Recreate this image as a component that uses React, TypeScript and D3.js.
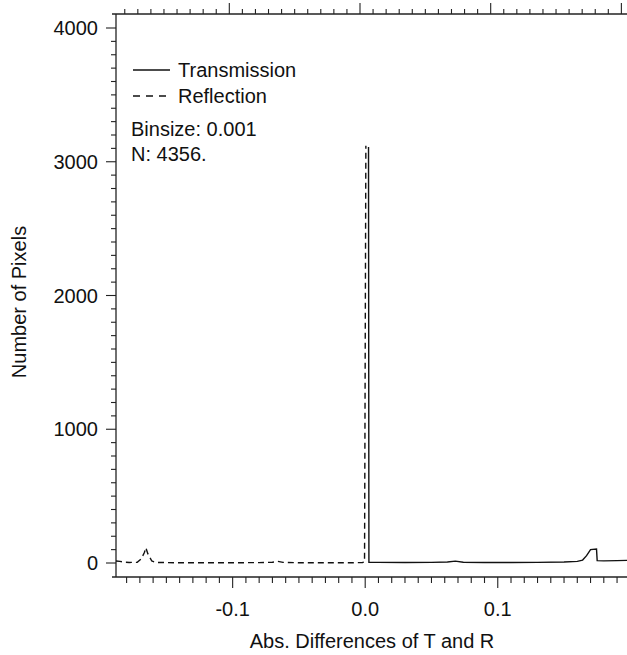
import React from "react";
import * as d3 from "d3";

const reflectionX = [-0.188, -0.185, -0.182, -0.178, -0.172, -0.169, -0.1665, -0.1655, -0.164, -0.161, -0.158, -0.15, -0.14, -0.12, -0.1, -0.08, -0.07, -0.066, -0.062, -0.05, -0.03, -0.01, -0.002, -0.0005, 0.0005];
const reflectionY = [15, 12, 6, 4, 5, 30, 80, 115, 70, 15, 4, 3, 2, 2, 2, 3, 6, 12, 5, 2, 2, 2, 4, 8, 3120];

const transmissionX = [0.0025, 0.0028, 0.01, 0.03, 0.05, 0.062, 0.068, 0.074, 0.09, 0.11, 0.13, 0.15, 0.16, 0.164, 0.167, 0.17, 0.1745, 0.175, 0.18, 0.19, 0.1975];
const transmissionY = [3110, 6, 5, 4, 5, 8, 14, 6, 4, 4, 5, 8, 12, 22, 55, 100, 105, 18, 16, 18, 20];

const xMajorTicks = [-0.1, 0.0, 0.1];
const xMajorLabels = ["-0.1", "0.0", "0.1"];
const yMajorTicks = [0, 1000, 2000, 3000, 4000];

const legendLabels = ["Transmission", "Reflection"];
const annotations = ["Binsize: 0.001", "N: 4356."];

export default function App() {
  const W = 627, H = 655;
  const left = 116, right = 627, top = 14, bottom = 577;
  const x = d3.scaleLinear().domain([-0.188, 0.1975]).range([left, right]);
  const xTop = d3.scaleLinear().domain([-0.1867, 0.2043]).range([left, right]);
  const y = d3.scaleLinear().domain([0, 4000]).range([563, 28]);
  const font = "Liberation Sans, Arial, Helvetica, sans-serif";
  const axisColor = "#222";
  const fs = 20;

  const line = d3.line<[number, number]>().x(d => x(d[0])).y(d => y(d[1]));
  const refl = reflectionX.map((v, i) => [v, reflectionY[i]] as [number, number]);
  const trans = transmissionX.map((v, i) => [v, transmissionY[i]] as [number, number]);

  const xMinor = d3.range(-18, 20).map(k => +(k * 0.01).toFixed(3)).filter(v => x(v) > left + 2 && x(v) <= right);
  const xTopMinor = d3.range(-18, 21).map(k => +(k * 0.01).toFixed(3)).filter(v => xTop(v) > left + 2 && xTop(v) <= right);
  const yMinor = d3.range(0, 41).map(k => k * 100);

  return (
    <svg width={W} height={H} style={{ position: "absolute", left: 0, top: 0 }} fontFamily={font}>
      <rect x={0} y={0} width={W} height={H} fill="white" />
      <line x1={112} x2={right} y1={bottom} y2={bottom} stroke={axisColor} strokeWidth={1.3} />
      <line x1={112} x2={right} y1={top} y2={top} stroke={axisColor} strokeWidth={1.3} />
      <line x1={left} x2={left} y1={top} y2={bottom} stroke={axisColor} strokeWidth={1.3} />
      {xMinor.map(v => {
        const major = xMajorTicks.some(m => Math.abs(m - v) < 1e-6);
        return <line key={"bx" + v} x1={x(v)} x2={x(v)} y1={bottom} y2={bottom + (major ? 11 : 6)} stroke={axisColor} strokeWidth={1.1} />;
      })}
      {xTopMinor.map(v => {
        const major = Math.abs(Math.round(v * 10) - v * 10) < 1e-6;
        return <line key={"tx" + v} x1={xTop(v)} x2={xTop(v)} y1={top} y2={top - (major ? 11 : 5)} stroke={axisColor} strokeWidth={1.1} />;
      })}
      {yMinor.map(v => {
        const major = v % 1000 === 0;
        return <line key={"ly" + v} x1={left} x2={left - (major ? 10 : 5)} y1={y(v)} y2={y(v)} stroke={axisColor} strokeWidth={1.1} />;
      })}
      {xMajorTicks.map((v, i) => (
        <text key={"xl" + v} x={x(v)} y={616} textAnchor="middle" fontSize={fs} fill="#111">{xMajorLabels[i]}</text>
      ))}
      {yMajorTicks.map(v => (
        <text key={"yl" + v} x={98} y={y(v)} dy="0.35em" textAnchor="end" fontSize={fs} fill="#111">{v}</text>
      ))}
      <text x={372} y={648} textAnchor="middle" fontSize={fs} fill="#111">Abs. Differences of T and R</text>
      <text transform={`translate(26,302) rotate(-90)`} textAnchor="middle" fontSize={fs} fill="#111">Number of Pixels</text>
      <path d={line(refl) || ""} fill="none" stroke="#111" strokeWidth={1.4} strokeDasharray="6,4" />
      <path d={line(trans) || ""} fill="none" stroke="#111" strokeWidth={1.4} />
      <line x1={133} x2={170} y1={70} y2={70} stroke="#111" strokeWidth={1.3} />
      <text x={178} y={77} fontSize={fs} fill="#111">{legendLabels[0]}</text>
      <line x1={133} x2={170} y1={96} y2={96} stroke="#111" strokeWidth={1.3} strokeDasharray="7,6" />
      <text x={178} y={103} fontSize={fs} fill="#111">{legendLabels[1]}</text>
      <text x={131} y={136} fontSize={fs} fill="#111">{annotations[0]}</text>
      <text x={131} y={161} fontSize={fs} fill="#111">{annotations[1]}</text>
    </svg>
  );
}
